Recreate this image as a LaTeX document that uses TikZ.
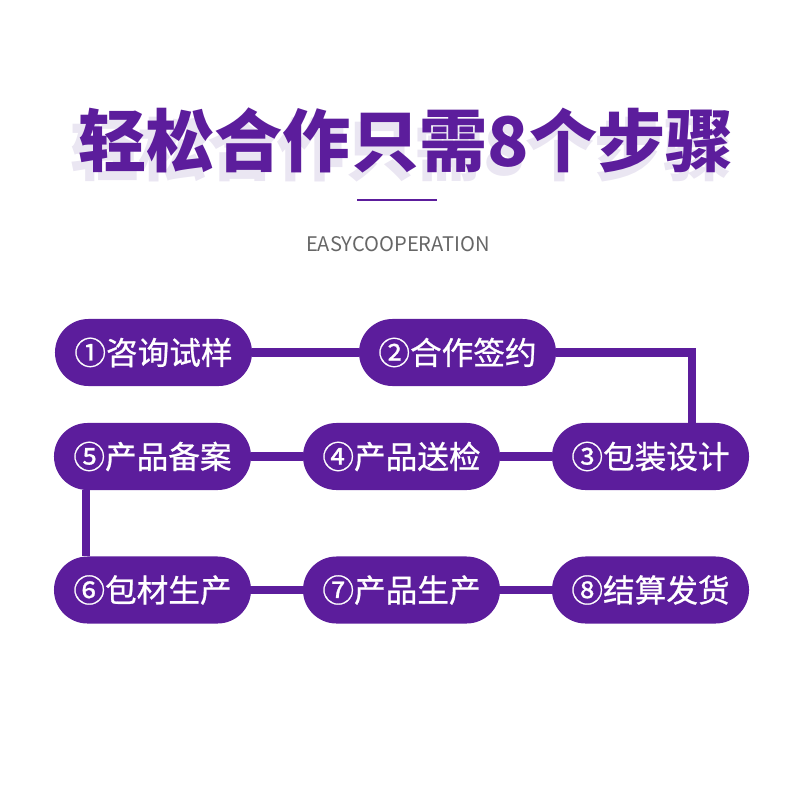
\documentclass[tikz,border=0pt]{standalone}
\usepackage{fontspec}
\setmainfont{Noto Sans CJK SC}
\newfontfamily\cjk{Noto Sans CJK SC}
\newfontfamily\cjkmid{Noto Sans CJK SC}[FakeBold=0.8]
\usetikzlibrary{calc}
\definecolor{deeppurple}{HTML}{5C1D9C}
\definecolor{shadowpurple}{HTML}{EAE6F2}
\definecolor{subgray}{HTML}{666666}

\begin{document}
\begin{tikzpicture}[x=0.025cm, y=-0.025cm,
  stepbox/.style={fill=deeppurple, text=white, inner sep=0pt,
    minimum width=4.925cm, minimum height=1.675cm, rounded corners=0.8375cm,
    font=\cjkmid\fontsize{22.5pt}{24pt}\selectfont},
  link/.style={draw=deeppurple, line width=5.7pt},
  headline/.style={font=\cjk\bfseries\fontsize{48.5pt}{50pt}\selectfont}]
  \useasboundingbox (0,0) rectangle (800,800);

  \node[headline, text=shadowpurple, xscale=1.01] (titleshadow) at (401,149) {轻松合作只需8个步骤};
  \node[headline, text=deeppurple] (title) at (406,140) {轻松合作只需8个步骤};
  \coordinate (barleft) at (357,200);
  \coordinate (barright) at (437,200);
  \draw[deeppurple, line width=1.8pt] (barleft) -- (barright);
  \node[text=subgray, font=\cjk\fontsize{14.3pt}{16pt}\selectfont] (subtitle) at (398,244) {EASYCOOPERATION};

  \node[stepbox] (s1) at (153.5,352.5) {①咨询试样};
  \node[stepbox] (s2) at (457.5,352.5) {②合作签约};
  \node[stepbox] (s3) at (650.5,456.5) {③包装设计};
  \node[stepbox] (s4) at (401.5,456.5) {④产品送检};
  \node[stepbox] (s5) at (152.5,456.5) {⑤产品备案};
  \node[stepbox] (s6) at (152.5,590) {⑥包材生产};
  \node[stepbox] (s7) at (401.5,590) {⑦产品生产};
  \node[stepbox] (s8) at (650.5,590) {⑧结算发货};

  \draw[link] (s1) -- (s2);
  \draw[link] (s2.east) -| ($(s3.north east)+(-57,0)$);
  \draw[link] (s3) -- (s4);
  \draw[link] (s4) -- (s5);
  \draw[link] ($(s5.south west)+(32,0)$) -- ($(s6.north west)+(32,0)$);
  \draw[link] (s6) -- (s7);
  \draw[link] (s7) -- (s8);
\end{tikzpicture}
\end{document}
